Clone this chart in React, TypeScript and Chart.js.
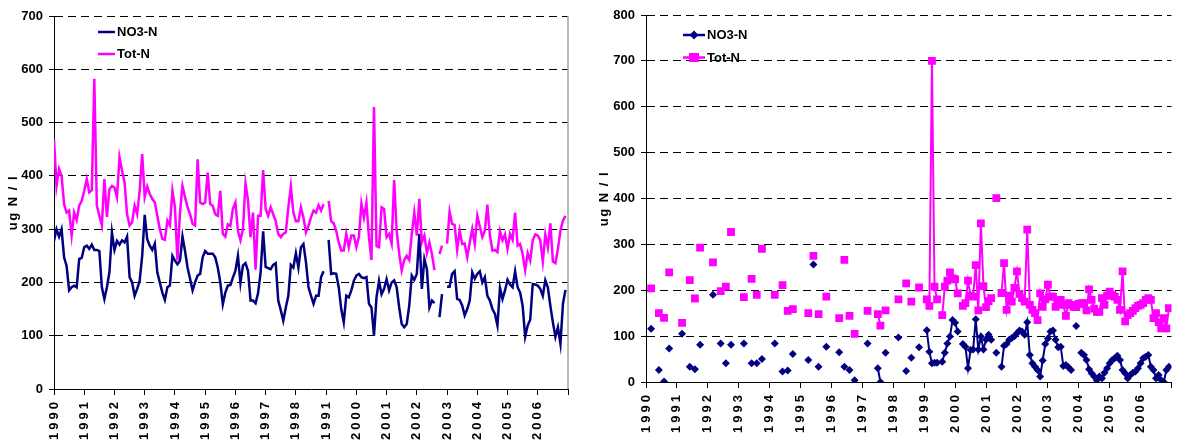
import React, { useEffect, useRef } from 'react';
import { Chart, registerables } from 'chart.js';

Chart.register(...registerables);

// ---------- DATA ----------
const leftYearLabels = ['1990', '1991', '1992', '1993', '1994', '1995', '1996', '1997', '1998', '1991', '2000', '2001', '2002', '2003', '2004', '2005', '2006'];
const rightYearLabels = ['1990', '1991', '1992', '1993', '1994', '1995', '1996', '1997', '1998', '1999', '2000', '2001', '2002', '2003', '2004', '2005', '2006'];
const yAxisTitle = 'ug N / l';

// Left chart: monthly values from Jan 1990 (index 0) to Dec 2006 (index 203)
const leftTotN = [
  469, 381, 413, 400, 347, 331, 335, 288, 331, 317, 344, 353,
  372, 394, 369, 373, 582, 344, 325, 307, 394, 323, 375, 381,
  378, 360, 435, 410, 388, 328, 307, 313, 344, 328, 372, 441,
  360, 380, 366, 357, 350, 325, 300, 282, 280, 316, 307, 372,
  341, 241, 331, 381, 360, 341, 328, 310, 307, 431, 350, 347,
  350, 406, 347, 344, 328, 325, 372, 291, 286, 309, 306, 338,
  350, 297, 279, 300, 386, 354, 285, 331, 224, 325, 325, 411,
  338, 325, 341, 328, 315, 291, 285, 291, 294, 341, 380, 331,
  315, 315, 341, 322, 294, 306, 322, 335, 331, 345, 335, 347,
  null, 353, 315, 311, 297, 275, 260, 260, 291, 266, 288, 288,
  266, 285, 348, 322, 350, 285, 242, 529, 268, 266, 341, 338,
  285, 291, 273, 392, 297, 254, 222, 242, 250, 242, 291, 331,
  288, 357, 275, 288, 255, 275, 253, 223, null, 253, 269, null,
  273, 333, 310, 308, 261, 297, 272, 273, 247, 275, 300, 272,
  325, 305, 285, 297, 346, 288, 260, 261, 257, 296, 279, 290,
  263, 291, 280, 331, 269, 272, 253, 223, 255, 241, 279, 290,
  288, 279, 239, 290, 266, 311, 239, 236, 263, 297, 316, 325,
];

const leftNO3N = [
  278, 300, 286, 300, 247, 231, 185, 191, 194, 191, 244, 246,
  266, 269, 263, 271, 261, 261, 259, 191, 169, 191, 219, 294,
  261, 278, 271, 279, 275, 286, 210, 200, 175, 188, 203, 250,
  327, 281, 269, 261, 273, 219, 200, 181, 167, 191, 194, 250,
  241, 234, 241, 286, 259, 228, 207, 185, 200, 213, 216, 247,
  259, 254, 254, 254, 247, 228, 200, 159, 181, 194, 195, 209,
  222, 250, 199, 232, 236, 222, 166, 166, 161, 180, 219, 296,
  229, 227, 225, 233, 236, 166, 148, 128, 153, 175, 233, 228,
  255, 228, 266, 272, 238, 191, 175, 160, 175, 175, 210, 221,
  null, 280, 216, 217, 216, 191, 150, 125, 175, 172, 185, 203,
  213, 216, 210, 208, 210, 160, 153, 100, 172, 203, 178, 188,
  206, 185, 200, 204, 191, 153, 122, 116, 122, 157, 213, 205,
  216, 291, 188, 244, 225, 153, 166, 161, null, 135, 178, null,
  192, 192, 216, 221, 169, 167, 157, 138, 150, 166, 219, 207,
  216, 221, 200, 210, 175, 166, 150, 141, 119, 190, 169, 185,
  205, 196, 191, 221, 191, 181, 156, 98, 119, 130, 197, 196,
  194, 188, 175, 204, 191, 156, 125, 98, 116, 85, 160, 186,
];

// Right chart: sampling months (months since Jan 1990)
const rightMonths = [
  2, 5, 7, 9, 14, 17, 19, 21, 26, 29, 31, 33, 38, 41, 43, 45, 50, 53, 55, 57, 63, 65, 67,
  70, 75, 77, 79, 81, 86, 90, 91, 93, 98, 101, 103, 106,
  109, 110, 111, 112, 113, 115, 116, 117, 118, 119, 120, 121,
  123, 124, 125, 126, 127, 128, 129, 130, 131, 132, 133, 134, 136,
  138, 139, 140, 141, 142, 143, 144, 145, 146, 147, 148, 149, 150, 151, 152, 153, 154, 155, 156, 157,
  158, 159, 160, 161, 162, 163, 164, 165, 166, 167, 168, 169, 170, 171, 172, 173, 174, 175, 176, 177,
  178, 179, 180, 181, 182, 183, 184, 185, 186, 187, 188, 189, 190, 191, 192, 193, 194, 195, 196, 197,
  198, 199, 200, 201, 202, 203,
];

const rightTotN = [
  204, 150, 140, 239, 129, 222, 182, 293, 261, 198, 208, 327, 185, 225, 190, 290, 190, 211, 155, 159, 150, 275, 148,
  186, 139, 266, 144, 105, 155, 148, 123, 156, 180, 215, 175, 206,
  180, 166, 700, 208, 180, 146, 208, 221, 239, 226, 224, 193,
  166, 172, 221, 188, 186, 255, 156, 346, 209, 163, 176, 183, 401,
  194, 259, 157, 188, 175, 205, 241, 192, 183, 175, 332, 168, 157, 150, 135, 193, 164, 180, 212, 186,
  186, 164, 170, 179, 168, 144, 172, 168, 164, 163, 170, 172, 172, 156, 202, 179, 160, 153, 153, 183,
  168, 188, 197, 190, 186, 179, 157, 241, 132, 146, 150, 155, 161, 166, 168, 172, 179, 183, 179, 139,
  150, 130, 117, 139, 117, 161,
];

const rightNO3N = [
  116, 26, 1, 73, 105, 33, 28, 81, 190, 84, 41, 81, 84, 41, 41, 50, 84, 23, 25, 61, 48, 256, 33,
  77, 65, 33, 26, 4, 84, 30, 0, 64, 97, 24, 53, 76,
  113, 66, 41, 42, 42, 44, 64, 84, 99, 135, 129, 110,
  83, 77, 30, 70, 71, 137, 71, 99, 71, 92, 103, 92, 64,
  33, 79, 83, 92, 96, 100, 106, 112, 110, 103, 130, 59, 41, 33, 26, 12, 47, 83, 95, 110,
  112, 92, 76, 77, 35, 37, 32, 26, null, 122, null, 64, 59, 48, 28, 19, 12, 4, 12, 8,
  20, 30, 41, 48, 52, 57, 48, 26, 19, 8, 15, 20, 23, 30, 41, 52, 55, 59, 33, 26,
  8, 15, 4, 0, 26, 33,
];

// ---------- STYLE ----------
const NAVY = '#000080';
const MAGENTA = '#FF00FF';
const FAMILY = '"Liberation Sans", Arial, Helvetica, sans-serif';
const boldFont = { family: FAMILY, size: 13, weight: 'bold' as const };

const spacingPlugin = {
  id: 'letterSpacing',
  beforeDraw(chart: any) {
    const x = chart.scales.x;
    if (x && !x.__sp) {
      x.__sp = true;
      const orig = x.drawLabels.bind(x);
      x.drawLabels = (area: any) => {
        const c = x.ctx as any;
        const prev = c.letterSpacing;
        c.letterSpacing = '3px';
        orig(area);
        c.letterSpacing = prev || '0px';
      };
    }
  },
};

function makeTitlePlugin(cx: number) {
  return {
    id: 'yTitle',
    afterDraw(chart: any) {
      const { ctx, chartArea } = chart;
      const cy = (chartArea.top + chartArea.bottom) / 2;
      ctx.save();
      (ctx as any).letterSpacing = '1.5px';
      ctx.translate(cx, cy);
      ctx.rotate(-Math.PI / 2);
      ctx.fillStyle = '#000';
      ctx.font = `bold 13px ${FAMILY}`;
      ctx.textAlign = 'center';
      ctx.textBaseline = 'middle';
      ctx.fillText(yAxisTitle, 0, 0);
      ctx.restore();
    },
  };
}

function makeLegendPlugin(cfg: { x0: number; x1: number; tx: number; ys: number[]; markers: boolean }) {
  return {
    id: 'customLegend',
    afterDraw(chart: any) {
      const ctx = chart.ctx;
      ctx.save();
      // legend order: NO3-N first, then Tot-N
      const order = [1, 0];
      order.forEach((di, k) => {
        const ds = chart.data.datasets[di];
        const y = cfg.ys[k];
        ctx.strokeStyle = ds.borderColor;
        ctx.lineWidth = 2.5;
        ctx.beginPath();
        ctx.moveTo(cfg.x0, y);
        ctx.lineTo(cfg.x1, y);
        ctx.stroke();
        if (cfg.markers) {
          ctx.fillStyle = ds.borderColor;
          const cx = (cfg.x0 + cfg.x1) / 2;
          ctx.beginPath();
          if (ds.pointStyle === 'rectRot') {
            ctx.moveTo(cx, y - 4.5);
            ctx.lineTo(cx + 4.5, y);
            ctx.lineTo(cx, y + 4.5);
            ctx.lineTo(cx - 4.5, y);
            ctx.closePath();
          } else {
            ctx.rect(cx - 5, y - 4.5, 10, 9);
          }
          ctx.fill();
        }
        ctx.fillStyle = '#000';
        ctx.font = `bold 13px ${FAMILY}`;
        ctx.textBaseline = 'middle';
        ctx.textAlign = 'left';
        ctx.fillText(ds.label, cfg.tx, y + 0.5);
      });
      ctx.restore();
    },
  };
}

const rightBorderPlugin = {
  id: 'rightBorder',
  afterDraw(chart: any) {
    const { ctx, chartArea } = chart;
    ctx.save();
    ctx.strokeStyle = '#a6a6a6';
    ctx.lineWidth = 1.5;
    ctx.beginPath();
    ctx.moveTo(chartArea.right, chartArea.top);
    ctx.lineTo(chartArea.right, chartArea.bottom);
    ctx.stroke();
    ctx.restore();
  },
};

function buildOptions(p: {
  top: number; right: number; xHeight: number; yWidth: number; yMax: number; labels: string[];
}) {
  return {
    responsive: false,
    animation: false as const,
    devicePixelRatio: 1,
    layout: { padding: { top: p.top, right: p.right, left: 0, bottom: 0 } },
    plugins: { legend: { display: false }, tooltip: { enabled: false }, title: { display: false } },
    scales: {
      x: {
        type: 'linear' as const,
        min: 0,
        max: 204,
        afterBuildTicks: (s: any) => {
          s.ticks = Array.from({ length: p.labels.length + 1 }, (_, k) => ({ value: k * 12 }));
        },
        afterFit: (s: any) => {
          s.height = p.xHeight;
          s.paddingLeft = 0;
          s.paddingRight = 0;
        },
        grid: { display: true, drawOnChartArea: false, drawTicks: true, tickLength: 6, tickColor: '#000', tickWidth: 1, color: '#000' },
        border: { display: true, color: '#000', width: 1 },
        ticks: {
          autoSkip: false,
          minRotation: 90,
          maxRotation: 90,
          padding: 4,
          color: '#000',
          font: boldFont,
          callback: (v: any) => {
            const k = Math.round(Number(v) / 12);
            return p.labels[k] ?? '';
          },
        },
      },
      y: {
        min: 0,
        max: p.yMax,
        afterFit: (s: any) => {
          s.width = p.yWidth;
          s.paddingTop = 0;
          s.paddingBottom = 0;
        },
        ticks: { stepSize: 100, padding: 6, color: '#000', font: boldFont },
        grid: { color: '#000', lineWidth: 1, drawTicks: true, tickLength: 5, tickColor: '#000', tickWidth: 1 },
        border: { display: true, color: '#000', width: 1, dash: [8, 5] },
        title: { display: false },
      },
    },
  };
}

function LeftChart() {
  const ref = useRef<HTMLCanvasElement | null>(null);
  useEffect(() => {
    if (!ref.current) return;
    const toPts = (arr: (number | null)[]) => arr.map((v, i) => ({ x: i, y: v }));
    const chart = new Chart(ref.current, {
      type: 'line',
      data: {
        datasets: [
          { label: 'Tot-N', data: toPts(leftTotN) as any, borderColor: MAGENTA, backgroundColor: MAGENTA, borderWidth: 2.5, pointRadius: 0, spanGaps: false, tension: 0 },
          { label: 'NO3-N', data: toPts(leftNO3N) as any, borderColor: NAVY, backgroundColor: NAVY, borderWidth: 2.5, pointRadius: 0, spanGaps: false, tension: 0 },
        ],
      },
      options: buildOptions({ top: 16, right: 16, xHeight: 52, yWidth: 54, yMax: 700, labels: leftYearLabels }) as any,
      plugins: [spacingPlugin, rightBorderPlugin, makeTitlePlugin(13), makeLegendPlugin({ x0: 98, x1: 115, tx: 117, ys: [32, 54], markers: false })],
    });
    return () => chart.destroy();
  }, []);
  return <canvas ref={ref} width={584} height={441} style={{ position: 'absolute', left: 0, top: 0, width: 584, height: 441 }} />;
}

function RightChart() {
  const ref = useRef<HTMLCanvasElement | null>(null);
  useEffect(() => {
    if (!ref.current) return;
    const toPts = (arr: (number | null)[]) => rightMonths.map((m, k) => ({ x: m, y: arr[k] }));
    const chart = new Chart(ref.current, {
      type: 'line',
      data: {
        datasets: [
          { label: 'Tot-N', data: toPts(rightTotN) as any, borderColor: MAGENTA, backgroundColor: MAGENTA, borderWidth: 2, pointStyle: 'rect', pointRadius: 5.5, pointBorderWidth: 0, spanGaps: 1.5 as any, tension: 0 },
          { label: 'NO3-N', data: toPts(rightNO3N) as any, borderColor: NAVY, backgroundColor: NAVY, borderWidth: 2, pointStyle: 'rectRot', pointRadius: 4, pointBorderWidth: 0, spanGaps: 1.5 as any, tension: 0 },
        ],
      },
      options: buildOptions({ top: 15, right: 0, xHeight: 59, yWidth: 58, yMax: 800, labels: rightYearLabels }) as any,
      plugins: [spacingPlugin, makeTitlePlugin(16), makeLegendPlugin({ x0: 95, x1: 117, tx: 119, ys: [35, 57.5], markers: true })],
    });
    return () => chart.destroy();
  }, []);
  return <canvas ref={ref} width={589} height={441} style={{ position: 'absolute', left: 588, top: 0, width: 589, height: 441 }} />;
}

export default function App() {
  useEffect(() => {
    document.body.style.margin = '0';
  }, []);
  return (
    <div style={{ position: 'absolute', left: 0, top: 0, width: 1177, height: 441, background: '#fff', overflow: 'hidden' }}>
      <LeftChart />
      <RightChart />
    </div>
  );
}
